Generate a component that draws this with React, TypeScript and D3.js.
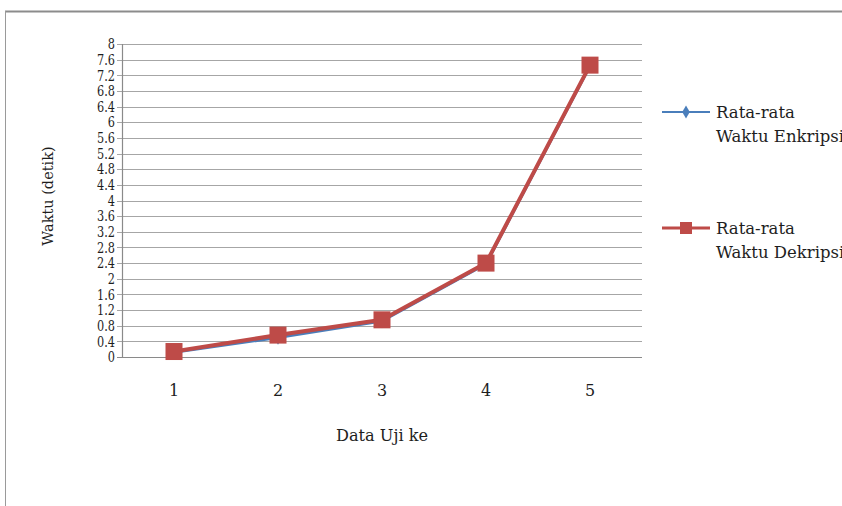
import React from "react";
import * as d3 from "d3";

const categories = ["1", "2", "3", "4", "5"];
const enkripsi = [0.12, 0.5, 0.92, 2.38, 7.44];
const dekripsi = [0.14, 0.56, 0.95, 2.4, 7.46];
const yTicks = [0, 0.4, 0.8, 1.2, 1.6, 2, 2.4, 2.8, 3.2, 3.6, 4, 4.4, 4.8, 5.2, 5.6, 6, 6.4, 6.8, 7.2, 7.6, 8];
const seriesNames = ["Rata-rata Waktu Enkripsi", "Rata-rata Waktu Dekripsi"];
const xTitle = "Data Uji ke";
const yTitle = "Waktu (detik)";

const W = 842;
const H = 506;
const plot = { left: 122, right: 642, top: 44, bottom: 357 };
const FONT = "'DejaVu Serif', 'Liberation Serif', serif";
const BLUE = "#4a7ebb";
const RED = "#be4b48";
const TXT = "#1e1e1e";

export default function App() {
  const x = d3.scaleBand<string>().domain(categories).range([plot.left, plot.right]);
  const y = d3.scaleLinear().domain([0, 8]).range([plot.bottom, plot.top]);
  const cx = (c: string) => (x(c) ?? 0) + x.bandwidth() / 2;
  const line = d3
    .line<number>()
    .x((_, i) => cx(categories[i]))
    .y((d) => y(d));

  const legendItems = [
    { name: seriesNames[0], color: BLUE, marker: "diamond", y: 112 },
    { name: seriesNames[1], color: RED, marker: "square", y: 228 },
  ];

  const tx = plot.left - 7;

  return (
    <div style={{ position: "absolute", left: 0, top: 0, margin: 0 }}>
      <svg width={W} height={H} style={{ display: "block", background: "#fff" }}>
        <rect x={0} y={0} width={W} height={H} fill="#fff" />
        {/* outer frame */}
        <line x1={5} y1={11.5} x2={W} y2={11.5} stroke="#8c8c8c" strokeWidth={2} />
        <line x1={5.5} y1={11} x2={5.5} y2={H} stroke="#9a9a9a" strokeWidth={1} />

        {/* gridlines and y ticks */}
        {yTicks.map((t) => (
          <g key={t}>
            <line
              x1={plot.left - 5}
              x2={plot.right}
              y1={Math.round(y(t)) + 0.5}
              y2={Math.round(y(t)) + 0.5}
              stroke={t === 0 ? "#8a8a8a" : "#a6a6a6"}
              strokeWidth={1.2}
            />
            <text
              x={tx}
              y={y(t)}
              dy="0.36em"
              textAnchor="end"
              fontFamily={FONT}
              fontSize={14.5}
              fill={TXT}
              transform={`translate(${tx},0) scale(0.78,1) translate(${-tx},0)`}
            >
              {t}
            </text>
          </g>
        ))}
        {/* y axis line */}
        <line x1={plot.left + 0.5} x2={plot.left + 0.5} y1={plot.top} y2={plot.bottom} stroke="#8a8a8a" strokeWidth={1.2} />

        {/* x tick labels */}
        {categories.map((c) => (
          <text key={c} x={cx(c)} y={396} textAnchor="middle" fontFamily={FONT} fontSize={16} fill={TXT}>
            {c}
          </text>
        ))}

        {/* axis titles */}
        <text
          x={382}
          y={441}
          textAnchor="middle"
          fontFamily={FONT}
          fontSize={17}
          fill={TXT}
          transform="translate(382,0) scale(0.95,1) translate(-382,0)"
        >
          {xTitle}
        </text>
        <text
          transform={`translate(53,${196}) rotate(-90)`}
          textAnchor="middle"
          fontFamily={FONT}
          fontSize={14.5}
          fill={TXT}
        >
          {yTitle}
        </text>

        {/* series: enkripsi (blue) */}
        <path d={line(enkripsi) ?? ""} fill="none" stroke={BLUE} strokeWidth={3} strokeLinejoin="round" />
        {enkripsi.map((v, i) => (
          <path
            key={"e" + i}
            d={d3.symbol(d3.symbolDiamond, 60)() ?? ""}
            transform={`translate(${cx(categories[i])},${y(v)})`}
            fill={BLUE}
          />
        ))}

        {/* series: dekripsi (red) */}
        <path d={line(dekripsi) ?? ""} fill="none" stroke={RED} strokeWidth={4} strokeLinejoin="round" />
        {dekripsi.map((v, i) => (
          <rect
            key={"d" + i}
            x={cx(categories[i]) - 8.5}
            y={y(v) - 8.5}
            width={17}
            height={17}
            fill={RED}
          />
        ))}

        {/* legend */}
        {legendItems.map((it) => {
          const words = it.name.split(" ");
          const first = words[0];
          const rest = words.slice(1).join(" ");
          return (
            <g key={it.name}>
              <line x1={662} x2={710} y1={it.y} y2={it.y} stroke={it.color} strokeWidth={it.marker === "square" ? 3 : 2} />
              {it.marker === "diamond" ? (
                <path d={d3.symbol(d3.symbolDiamond, 50)() ?? ""} transform={`translate(686,${it.y})`} fill={it.color} />
              ) : (
                <rect x={680} y={it.y - 6} width={12} height={12} fill={it.color} />
              )}
              <text x={716} y={it.y} dy="0.36em" fontFamily={FONT} fontSize={16.5} fill={TXT}>
                {first}
              </text>
              <text x={716} y={it.y + 24} dy="0.36em" fontFamily={FONT} fontSize={16.5} fill={TXT}>
                {rest}
              </text>
            </g>
          );
        })}
      </svg>
    </div>
  );
}
